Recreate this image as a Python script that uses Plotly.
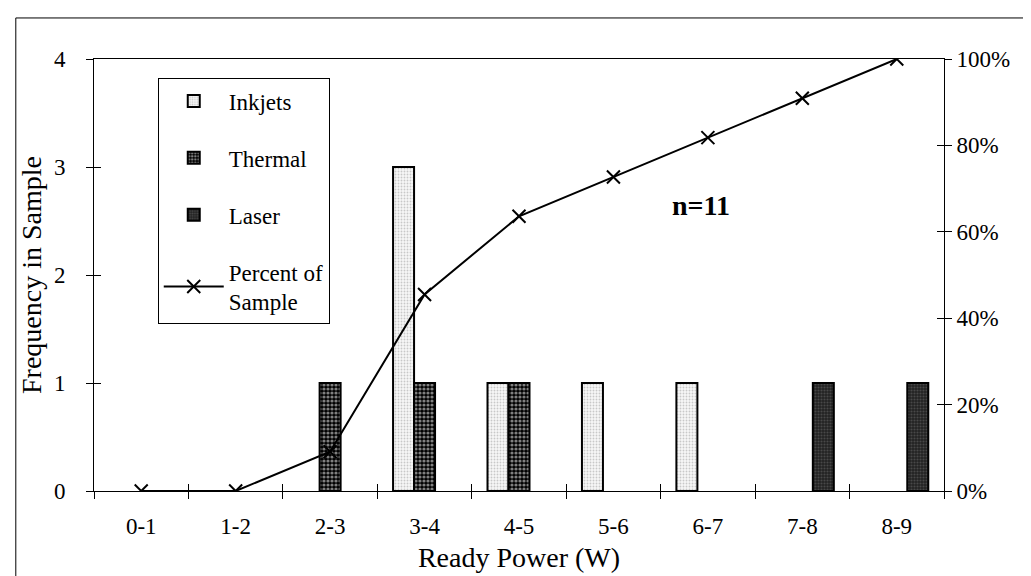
import plotly.graph_objects as go

categories = ["0-1", "1-2", "2-3", "3-4", "4-5", "5-6", "6-7", "7-8", "8-9"]
inkjets = [0, 0, 0, 3, 1, 1, 1, 0, 0]
thermal = [0, 0, 1, 1, 1, 0, 0, 0, 0]
laser = [0, 0, 0, 0, 0, 0, 0, 1, 1]
percent_of_sample = [0, 0, 9.1, 45.5, 63.6, 72.7, 81.8, 90.9, 100]
freq_ticks = [0, 1, 2, 3, 4]
pct_ticks = [0, 20, 40, 60, 80, 100]
pct_labels = ["0%", "20%", "40%", "60%", "80%", "100%"]

FONT = "Liberation Serif"
BLACK = "#000000"


def nz(vals):
    # empty bins draw no bar
    return [v if v else None for v in vals]


fig = go.Figure()

fig.add_trace(go.Bar(
    name="Inkjets", x=categories, y=nz(inkjets), legendgroup="a",
    marker=dict(color="#f4f4f4", line=dict(color=BLACK, width=2),
                pattern=dict(shape=".", fgcolor="#9a9a9a", bgcolor="#f7f7f7", size=3, solidity=0.3)),
))
fig.add_trace(go.Bar(
    name="Thermal", x=categories, y=nz(thermal), legendgroup="b",
    marker=dict(color=BLACK, line=dict(color=BLACK, width=2),
                pattern=dict(shape=".", fgcolor="#ffffff", bgcolor="#000000", size=4, solidity=0.5)),
))
fig.add_trace(go.Bar(
    name="Laser", x=categories, y=nz(laser), legendgroup="c",
    marker=dict(color="#333333", line=dict(color=BLACK, width=2),
                pattern=dict(shape=".", fgcolor="#6e6e6e", bgcolor="#222222", size=3, solidity=0.4)),
))
fig.add_trace(go.Scatter(
    name="Percent of<br>Sample", x=categories, y=percent_of_sample, yaxis="y2", legendgroup="d",
    mode="lines+markers",
    line=dict(color=BLACK, width=2),
    marker=dict(symbol="x-thin", size=13, color=BLACK, line=dict(color=BLACK, width=2)),
))
# invisible helper traces carrying the inner halves of the crossing tick marks
fig.add_trace(go.Scatter(x=categories, y=inkjets, xaxis="x3", yaxis="y3", mode="markers",
                         marker=dict(opacity=0), showlegend=False, hoverinfo="skip"))
fig.add_trace(go.Scatter(x=categories, y=percent_of_sample, yaxis="y4", mode="markers",
                         marker=dict(opacity=0), showlegend=False, hoverinfo="skip"))

tickfont = dict(family=FONT, size=23, color=BLACK)
inner = dict(ticks="inside", ticklen=7, showticklabels=False, showline=False, showgrid=False,
             zeroline=False, tickcolor=BLACK)

fig.update_layout(
    width=1031, height=576,
    margin=dict(l=86, r=95, t=51, b=93),
    paper_bgcolor="white", plot_bgcolor="white",
    barmode="group", bargap=0.333, bargroupgap=0,
    font=dict(family=FONT, size=23, color=BLACK),
    showlegend=True,
    legend=dict(x=0.075, y=0.955, xanchor="left", yanchor="top",
                bgcolor="white", bordercolor=BLACK, borderwidth=1,
                font=dict(family=FONT, size=23, color=BLACK),
                tracegroupgap=24, traceorder="grouped", itemwidth=60),
    xaxis=dict(type="category", range=[-0.5, 8.5], tickson="boundaries", ticks="outside", ticklen=7,
               showline=True, mirror=True, linewidth=1, linecolor=BLACK, tickcolor=BLACK,
               showgrid=False, zeroline=False, tickfont=tickfont, ticklabelstandoff=14,
               title=dict(text="Ready Power (W)", font=dict(family=FONT, size=28), standoff=9)),
    xaxis3=dict(type="category", range=[-0.5, 8.5], overlaying="x", anchor="y", tickson="boundaries",
                **inner),
    yaxis=dict(range=[0, 4], tickvals=freq_ticks, ticks="outside", ticklen=7, showline=True, linewidth=1,
               linecolor=BLACK, tickcolor=BLACK, showgrid=False, zeroline=False, tickfont=tickfont,
               ticklabelstandoff=16,
               title=dict(text="Frequency in Sample", font=dict(family=FONT, size=28), standoff=4)),
    yaxis3=dict(range=[0, 4], tickvals=freq_ticks, overlaying="y", side="left", anchor="x", **inner),
    yaxis2=dict(range=[0, 100], tickvals=pct_ticks, ticktext=pct_labels, overlaying="y", side="right",
                ticks="outside", ticklen=7, showline=True, linewidth=1, linecolor=BLACK, tickcolor=BLACK,
                showgrid=False, zeroline=False, tickfont=tickfont, ticklabelstandoff=0),
    yaxis4=dict(range=[0, 100], tickvals=pct_ticks, overlaying="y", side="right", **inner),
    annotations=[dict(text="<b>n=11</b>", xref="paper", yref="paper", x=0.75, y=0.662,
                      showarrow=False, font=dict(family=FONT, size=28, color=BLACK))],
    shapes=[dict(type="rect", xref="paper", yref="paper", x0=-0.092, x1=1.2, y0=-0.5, y1=1.095,
                 line=dict(color=BLACK, width=1), fillcolor="rgba(0,0,0,0)", layer="below")],
)

fig.write_html("out.html")
